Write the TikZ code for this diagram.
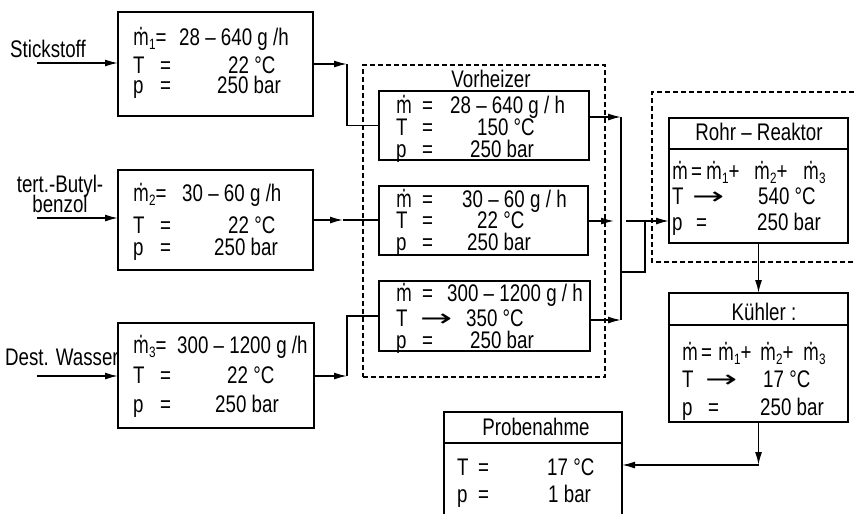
\documentclass[tikz,border=0pt]{standalone}
\usepackage{fontspec}
\setmainfont{Liberation Sans}[FakeStretch=0.78]
\newfontfamily\dejavu{DejaVu Sans}
\newfontfamily\mfont{DejaVu Sans}[FakeStretch=0.68]
\usetikzlibrary{arrows.meta}
\newcommand\mdot{{\mfont ṁ}}
\newcommand\sbs[1]{\raisebox{-0.18em}{\fontsize{15}{15}\selectfont #1}}
\newcommand\rarr{\scalebox{1.6}[1]{\dejavu →}}
\newcommand\txtfont{\fontsize{24}{26}\selectfont\spaceskip=0.22em\relax}
\begin{document}
\begin{tikzpicture}[x=1pt,y=-1pt,
  box/.style={draw,line width=1.5pt,inner sep=0pt,outer sep=0pt},
  dbox/.style={draw,dashed,dash pattern=on 5pt off 3pt,line width=1.4pt,inner sep=0pt,outer sep=0pt},
  txt/.style={inner sep=0pt,anchor=base west,font=\txtfont},
  ttl/.style={inner sep=0pt,anchor=base,font=\txtfont},
  conn/.style={line width=1.5pt},
  arr/.style={line width=1.5pt,-{Latex[length=13pt,width=7pt]}}]
\useasboundingbox (0,0) rectangle (854,514);
\clip (0,0) rectangle (854,514);
\fill[white] (0,0) rectangle (854,514);

% ---------- input boxes ----------
\node[box,minimum width=195pt,minimum height=104pt] (b1) at (215.5,64) {};
\node[box,minimum width=195pt,minimum height=100pt] (b2) at (215.5,220) {};
\node[box,minimum width=196pt,minimum height=105pt] (b3) at (216,375.5) {};

\node[txt] (b1l1) at (133,45) {\mdot\sbs{1}=};
\node[txt] (b1v1) at (179,45) {28 – 640 g /h};
\node[txt] (b1l2) at (133,73) {T};
\node[txt] (b1e2) at (160,73) {=};
\node[txt] (b1v2) at (228,73) {22 °C};
\node[txt] (b1l3) at (133,93) {p};
\node[txt] (b1e3) at (160,93) {=};
\node[txt] (b1v3) at (217,93) {250 bar};

\node[txt] (b2l1) at (133,201) {\mdot\sbs{2}=};
\node[txt] (b2v1) at (182,201) {30 – 60 g /h};
\node[txt] (b2l2) at (133,233) {T};
\node[txt] (b2e2) at (160,233) {=};
\node[txt] (b2v2) at (228,233) {22 °C};
\node[txt] (b2l3) at (133,255) {p};
\node[txt] (b2e3) at (160,255) {=};
\node[txt] (b2v3) at (214,255) {250 bar};

\node[txt] (b3l1) at (133,353) {\mdot\sbs{3}=};
\node[txt] (b3v1) at (177,353) {300 – 1200 g /h};
\node[txt] (b3l2) at (133,383) {T};
\node[txt] (b3e2) at (160,383) {=};
\node[txt] (b3v2) at (227,383) {22 °C};
\node[txt] (b3l3) at (133,412) {p};
\node[txt] (b3e3) at (160,412) {=};
\node[txt] (b3v3) at (215,412) {250 bar};

% input labels and arrows
\node[txt] (lab1) at (10,57) {Stickstoff};
\node[ttl,align=center] (lab2) at (60,212) {tert.-Butyl-\\[-6pt]benzol};
\node[txt] (lab3) at (5,365) {Dest. Wasser};
\coordinate (in1) at (37,63);
\coordinate (in2) at (37,218);
\coordinate (in3) at (37,376);
\draw[arr] (in1) -- (in1 -| b1.west);
\draw[arr] (in2) -- (in2 -| b2.west);
\draw[arr] (in3) -- (in3 -| b3.west);

% ---------- Vorheizer ----------
\node[dbox,minimum width=242pt,minimum height=312pt] (vh) at (484,221) {};
\node[ttl] (vht) at (491,87) {Vorheizer};
\node[box,minimum width=210pt,minimum height=69pt] (v1) at (484,125.5) {};
\node[box,minimum width=209pt,minimum height=69pt] (v2) at (483.5,220.5) {};
\node[box,minimum width=211pt,minimum height=70pt] (v3) at (484.5,316) {};

\node[txt] (v1l1) at (396,113) {\mdot};
\node[txt] (v1e1) at (422,113) {=};
\node[txt] (v1v1) at (450,113) {28 – 640 g / h};
\node[txt] (v1l2) at (396,135) {T};
\node[txt] (v1e2) at (422,135) {=};
\node[txt] (v1v2) at (477,135) {150 °C};
\node[txt] (v1l3) at (396,157) {p};
\node[txt] (v1e3) at (422,157) {=};
\node[txt] (v1v3) at (470,157) {250 bar};

\node[txt] (v2l1) at (396,207) {\mdot};
\node[txt] (v2e1) at (422,207) {=};
\node[txt] (v2v1) at (462,207) {30 – 60 g / h};
\node[txt] (v2l2) at (396,228) {T};
\node[txt] (v2e2) at (422,228) {=};
\node[txt] (v2v2) at (477,228) {22 °C};
\node[txt] (v2l3) at (396,250) {p};
\node[txt] (v2e3) at (422,250) {=};
\node[txt] (v2v3) at (467,250) {250 bar};

\node[txt] (v3l1) at (396,301) {\mdot};
\node[txt] (v3e1) at (422,301) {=};
\node[txt] (v3v1) at (447,301) {300 – 1200 g / h};
\node[txt] (v3l2) at (396,326) {T};
\node[txt] (v3e2) at (420,326) {\rarr};
\node[txt] (v3v2) at (466,326) {350 °C};
\node[txt] (v3l3) at (396,348) {p};
\node[txt] (v3e3) at (422,348) {=};
\node[txt] (v3v3) at (470,348) {250 bar};

% connectors input -> Vorheizer
\coordinate (c1) at (347,64);
\coordinate (c2) at (343,220);
\coordinate (c3) at (347,376);
\draw[arr] (b1.east) -- (c1);
\draw[conn] (c1) |- (v1.west);
\draw[arr] (b2.east |- c2) -- (c2);
\draw[conn] (c2) -- (c2 -| v2.west);
\draw[arr] (b3.east |- c3) -- (c3);
\draw[conn] (c3) |- (v3.west);

% ---------- Rohr-Reaktor ----------
\draw[dbox] (870,92) -- (652,92) -- (652,262) -- (870,262);
\node[box,minimum width=179pt,minimum height=125pt] (rr) at (758.5,180.5) {};
\coordinate (rrd) at (0,149);
\draw[line width=1.5pt] (rr.west |- rrd) -- (rr.east |- rrd);
\node[ttl] (rrt) at (759,140) {Rohr – Reaktor};
\node[txt] (rrl1) at (672,179) {\mdot};
\node[txt] (rre1) at (691,179) {=};
\node[txt] (rra1) at (706,179) {\mdot\sbs{1}+};
\node[txt] (rrb1) at (754,179) {\mdot\sbs{2}+};
\node[txt] (rrc1) at (803,179) {\mdot\sbs{3}};
\node[txt] (rrl2) at (672,204) {T};
\node[txt] (rre2) at (692,204) {\rarr};
\node[txt] (rrv2) at (758,204) {540 °C};
\node[txt] (rrl3) at (672,230) {p};
\node[txt] (rre3) at (696,230) {=};
\node[txt] (rrv3) at (757,230) {250 bar};

% collector
\coordinate (k1) at (621,117);
\coordinate (k2) at (614,221);
\coordinate (k3) at (621,320);
\coordinate (j1) at (621,272);
\coordinate (j2) at (645,221);
\coordinate (k2b) at (626,221);
\draw[arr] (v1.east |- k1) -- (k1);
\draw[arr] (v2.east |- k2) -- (k2);
\draw[arr] (v3.east |- k3) -- (k3);
\draw[conn] (k1) -- (k3);
\draw[conn] (j1) -| (j2);
\draw[arr] (k2b) -- (rr.west |- k2b);

% ---------- Kuehler ----------
\node[box,minimum width=179pt,minimum height=129pt] (kh) at (758.5,357.5) {};
\coordinate (khd) at (0,325);
\draw[line width=1.5pt] (kh.west |- khd) -- (kh.east |- khd);
\node[ttl] (kht) at (764,320) {Kühler :};
\node[txt] (khl1) at (682,360) {\mdot};
\node[txt] (khe1) at (701,360) {=};
\node[txt] (kha1) at (718,360) {\mdot\sbs{1}+};
\node[txt] (khb1) at (760,360) {\mdot\sbs{2}+};
\node[txt] (khc1) at (803,360) {\mdot\sbs{3}};
\node[txt] (khl2) at (682,387) {T};
\node[txt] (khe2) at (705,387) {\rarr};
\node[txt] (khv2) at (763,387) {17 °C};
\node[txt] (khl3) at (682,415) {p};
\node[txt] (khe3) at (708,415) {=};
\node[txt] (khv3) at (760,415) {250 bar};
\draw[arr] (rr.south) -- (kh.north);

% ---------- Probenahme ----------
\node[box,minimum width=178pt,minimum height=106pt] (pn) at (533,465) {};
\coordinate (pnd) at (0,443);
\draw[line width=1.5pt] (pn.west |- pnd) -- (pn.east |- pnd);
\node[ttl] (pnt) at (536,435) {Probenahme};
\node[txt] (pnl1) at (457,475) {T};
\node[txt] (pne1) at (478,475) {=};
\node[txt] (pnv1) at (547,475) {17 °C};
\node[txt] (pnl2) at (457,502) {p};
\node[txt] (pne2) at (478,502) {=};
\node[txt] (pnv2) at (548,502) {1 bar};

\coordinate (k4) at (758.5,465);
\draw[arr] (kh.south) -- (k4);
\draw[arr] (k4) -- (pn.east |- k4);
\end{tikzpicture}
\end{document}
